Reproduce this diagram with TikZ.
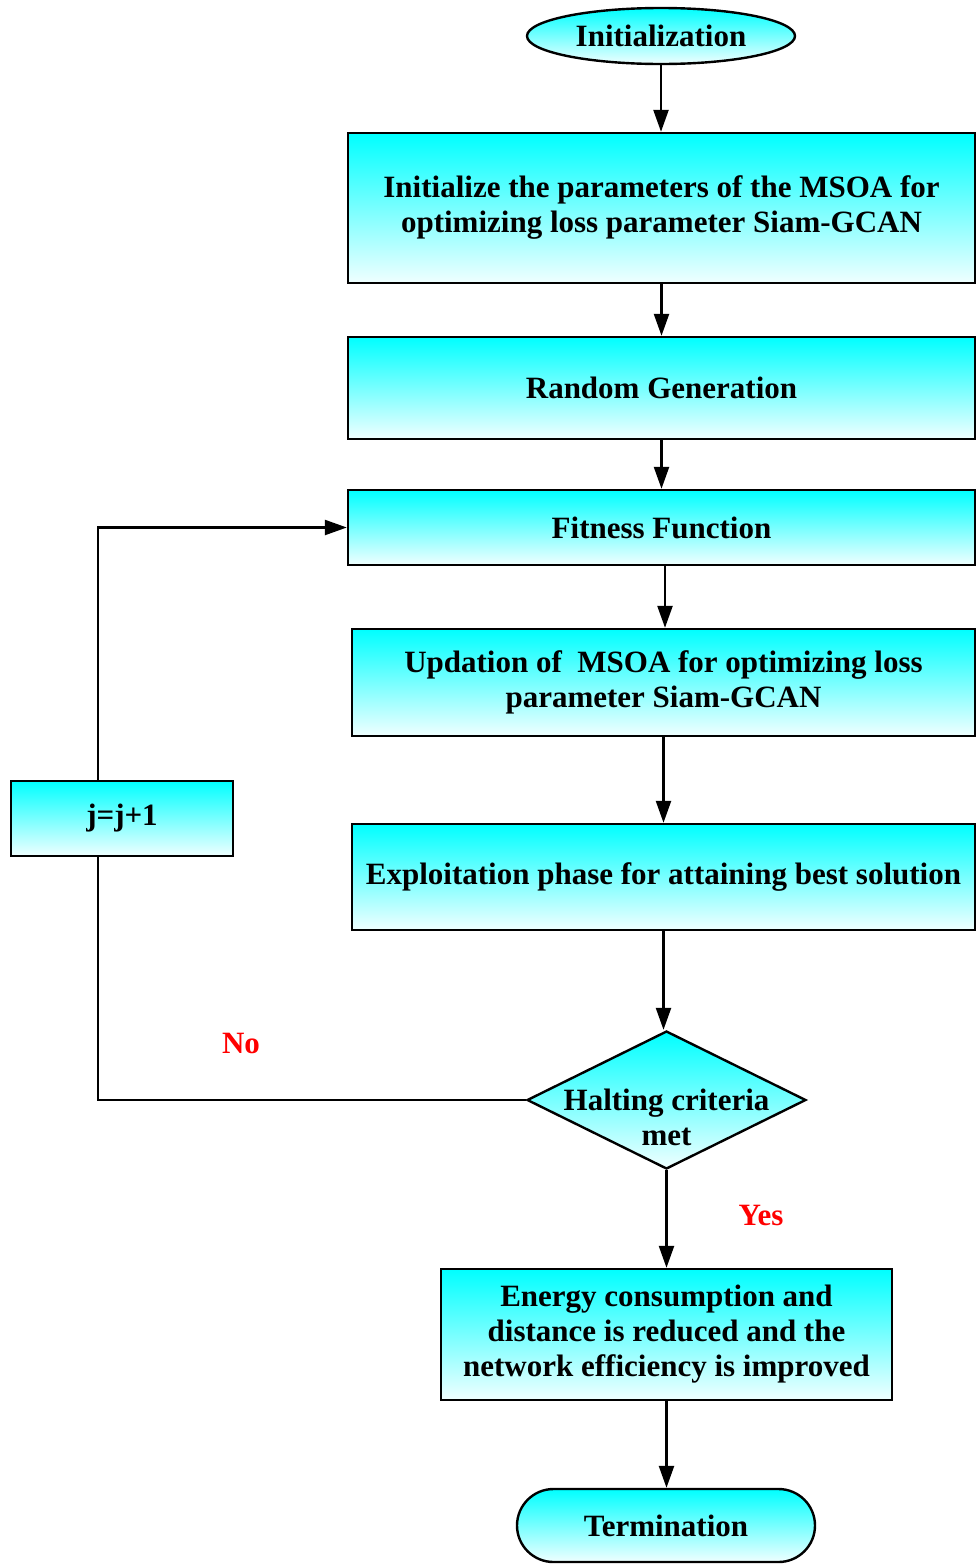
\documentclass[tikz,border=0pt]{standalone}
\usepackage{fontspec}
\setmainfont{Liberation Serif}
\usetikzlibrary{shapes.geometric,shapes.misc,arrows.meta}
\tikzset{
	blk/.style={draw,line width=2.4pt,top color=cyan,bottom color=cyan!6,align=center,inner sep=0pt,font=\fontsize{31}{35}\selectfont\bfseries},
	arr/.style={line width=2.4pt,-{Triangle[length=22pt,width=15pt]}},
	lnk/.style={line width=2.4pt},
	lab/.style={text=red,font=\fontsize{31}{35}\selectfont\bfseries}
}
\begin{document}
\begin{tikzpicture}[x=1pt,y=-1pt]
		\useasboundingbox (0,0) rectangle (976,1564);
		\node[blk,ellipse,minimum width=268pt,minimum height=56pt] (init) at (661,36) {Initialization};
		\node[blk,minimum width=627pt,minimum height=150pt] (param) at (661.5,208) {Initialize the parameters of the MSOA for\\optimizing loss parameter Siam-GCAN};
		\node[blk,minimum width=627pt,minimum height=102pt] (rand) at (661.5,388) {Random Generation};
		\node[blk,minimum width=627pt,minimum height=75pt] (fit) at (661.5,527.5) {Fitness Function};
		\node[blk,minimum width=623pt,minimum height=107pt] (upd) at (663.5,682.5) {Updation of \ MSOA for optimizing loss\\parameter Siam-GCAN};
		\node[blk,minimum width=623pt,minimum height=106pt] (expl) at (663.5,877) {Exploitation phase for attaining best solution};
		\node[blk,diamond,minimum width=279pt,minimum height=138pt] (halt) at (666.5,1100) {};
		\node[font=\fontsize{31}{35}\selectfont\bfseries,align=center] (halttxt) at (666.5,1117) {Halting criteria\\met};
		\node[blk,minimum width=451pt,minimum height=131pt] (energy) at (666.5,1334.5) {Energy consumption and\\distance is reduced and the\\network efficiency is improved};
		\node[blk,rounded rectangle,minimum width=298pt,minimum height=73pt] (term) at (666,1525.5) {Termination};
		\node[blk,minimum width=222pt,minimum height=75pt] (inc) at (122,818.5) {j=j+1};
		\coordinate (corner) at (98,1100);
		% main flow
		\draw[arr] (init.south) -- (init.south |- param.north);
		\draw[arr] (param.south) -- (param.south |- rand.north);
		\draw[arr] (rand.south) -- (rand.south |- fit.north);
		\draw[arr] ([xshift=3.5pt]fit.south) -- ([xshift=3.5pt]fit.south |- upd.north);
		\draw[arr] (upd.south) -- (upd.south |- expl.north);
		\draw[arr] (expl.south) -- (expl.south |- halt.north);
		\draw[arr] (halt.south) -- (halt.south |- energy.north);
		\draw[arr] (energy.south) -- (energy.south |- term.north);
		% loop back
		\draw[lnk] (halt.west) -- (corner) -- (corner |- inc.south);
		\draw[arr] (corner |- inc.north) |- (fit.west);
		\node[lab] (no) at (241,1043) {No};
		\node[lab] (yes) at (761,1215) {Yes};
\end{tikzpicture}
\end{document}
